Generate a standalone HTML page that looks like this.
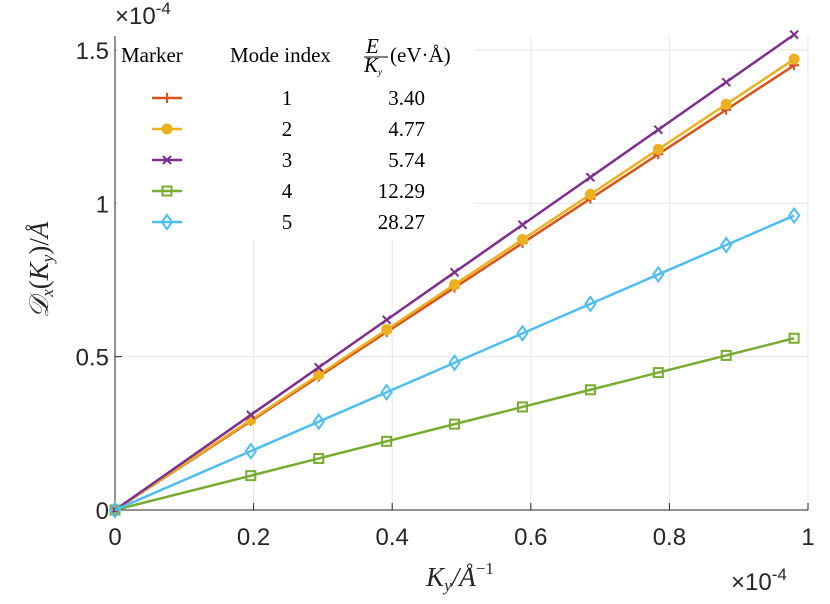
<!DOCTYPE html>
<html><head><meta charset="utf-8"><style>
body{margin:0;background:#fff}
svg{display:block}
.tk{font-family:"Liberation Sans",sans-serif;font-size:24px;fill:#262626}
.lg{font-family:"Liberation Serif",serif;font-size:21px;fill:#000}
</style></head><body>
<svg id="chart" width="830" height="604" viewBox="0 0 830 604" xmlns="http://www.w3.org/2000/svg">
<g id="grid"></g>
<g id="axes"></g>
<g id="series"></g>
<rect x="116" y="36" width="358" height="204" fill="#fff"/>
<g>
<text class="lg" x="121" y="62">Marker</text>
<text class="lg" x="230" y="62">Mode index</text>
<g>
<text class="lg" x="366" y="53" font-size="13" font-style="italic">E</text>
<line x1="364" y1="57" x2="388" y2="57" stroke="#000" stroke-width="1"/>
<text class="lg" x="364" y="72" font-size="13" font-style="italic">K<tspan font-size="9" dy="3">y</tspan></text>
<text class="lg" x="390" y="62">(eV·Å)</text>
</g>
<g id="legend-rows"></g>
</g>
<text class="tk" x="115" y="24" font-size="25">×10<tspan font-size="17" dy="-10">-4</tspan></text>
<text class="tk" x="731" y="590" font-size="25">×10<tspan font-size="17" dy="-10">-4</tspan></text>
<text x="460" y="586" text-anchor="middle" font-family="Liberation Serif,serif" font-size="27" font-style="italic" fill="#262626">K<tspan font-size="17" dy="5">y</tspan><tspan dy="-5">/Å</tspan><tspan font-size="17" dy="-12" font-style="normal">−1</tspan></text>
<text transform="translate(48,270) rotate(-90)" text-anchor="middle" font-family="Liberation Serif,serif" font-size="27" font-style="italic" fill="#262626">𝒟<tspan font-size="17" dy="5">x</tspan><tspan dy="-5" font-style="normal">(</tspan>K<tspan font-size="17" dy="5">y</tspan><tspan dy="-5" font-style="normal">)/</tspan>Å</text>
</svg>
<script>
const xs=[0,0.196,0.294,0.392,0.49,0.588,0.686,0.784,0.882,0.98];
const s1=[0,0.29,0.435,0.58,0.725,0.87,1.015,1.16,1.305,1.45];
const s2=[0,0.294,0.441,0.588,0.735,0.882,1.029,1.176,1.323,1.47];
const s3=[0,0.31,0.465,0.62,0.775,0.93,1.085,1.24,1.395,1.55];
const s4=[0,0.112,0.168,0.224,0.28,0.336,0.392,0.448,0.504,0.56];
const s5=[0,0.192,0.288,0.384,0.48,0.576,0.672,0.768,0.864,0.96];
const xTicks=[0,0.2,0.4,0.6,0.8,1];
const xTickLabels=["0","0.2","0.4","0.6","0.8","1"];
const yTicks=[0,0.5,1,1.5];
const yTickLabels=["0","0.5","1","1.5"];
const modes=["1","2","3","4","5"];
const energies=["3.40","4.77","5.74","12.29","28.27"];
const NS="http://www.w3.org/2000/svg";
const X0=115,X1=808,Y0=510,YT=36;
const xS=v=>X0+v*(X1-X0);
const yS=v=>Y0-v*306.7;
function mk(t,a,p){const e=document.createElementNS(NS,t);for(const k in a)e.setAttribute(k,a[k]);p.appendChild(e);return e;}
const grid=document.getElementById('grid'),axes=document.getElementById('axes'),ser=document.getElementById('series');
xTicks.forEach((t,i)=>{
 if(t>0){const g=mk('line',{x1:xS(t),x2:xS(t),y1:Y0,y2:YT,stroke:'#e6e6e6','stroke-width':1},grid);
 
 }
 const tk=mk('line',{x1:xS(t),x2:xS(t),y1:Y0,y2:Y0-7,stroke:'#262626'},axes);
 
 
 const l=mk('text',{x:xS(t),y:Y0+35,'text-anchor':'middle',class:'tk'},axes);l.textContent=xTickLabels[i];
 
 
});
yTicks.forEach((t,i)=>{
 if(t>0){const g=mk('line',{x1:X0,x2:X1,y1:yS(t),y2:yS(t),stroke:'#e6e6e6','stroke-width':1},grid);
 
 }
 const tk=mk('line',{x1:X0,x2:X0+7,y1:yS(t),y2:yS(t),stroke:'#262626'},axes);
 
 
 const l=mk('text',{x:X0-6,y:yS(t)+9,'text-anchor':'end',class:'tk'},axes);l.textContent=yTickLabels[i];
 
 
});
const xa=mk('line',{x1:X0,x2:X1,y1:Y0,y2:Y0,stroke:'#262626'},axes);


const ya=mk('line',{x1:X0,x2:X0,y1:Y0,y2:YT,stroke:'#262626'},axes);


function marker(type,x,y,c,p){
 const g=mk('g',{stroke:c,'stroke-width':2,fill:'none'},p);
 if(type==='plus'){mk('path',{d:`M${x-5} ${y}H${x+5}M${x} ${y-5}V${y+5}`},g);}
 else if(type==='circle'){mk('circle',{cx:x,cy:y,r:4.5,fill:c},g);}
 else if(type==='x'){mk('path',{d:`M${x-4} ${y-4}L${x+4} ${y+4}M${x-4} ${y+4}L${x+4} ${y-4}`},g);}
 else if(type==='square'){mk('rect',{x:x-4.5,y:y-4.5,width:9,height:9},g);}
 else {mk('path',{d:`M${x} ${y-7}L${x+5} ${y}L${x} ${y+7}L${x-5} ${y}Z`},g);}
 return g;
}
const defs=[[s1,'#d95319','plus'],[s2,'#edb120','circle'],[s3,'#7e2f8e','x'],[s4,'#77ac30','square'],[s5,'#4dbeee','diamond']];
defs.forEach(([d,c,m],k)=>{
 const g=mk('g',{},ser);
 
 
 const pl=mk('polyline',{points:xs.map((x,i)=>xS(x)+','+yS(d[i])).join(' '),fill:'none',stroke:c,'stroke-width':2.5},g);
 
 
 xs.forEach((x,i)=>{const mm=marker(m,xS(x),yS(d[i]),c,g);
  
  });
});
const lr=document.getElementById('legend-rows');
defs.forEach(([d,c,m],k)=>{
 const y=98+k*31;
 const g=mk('g',{},lr);
 
 
 mk('line',{x1:152,x2:182,y1:y,y2:y,stroke:c,'stroke-width':2.5},g);
 marker(m,167,y,c,g);
 const t1=mk('text',{x:287,y:y+7,'text-anchor':'middle',class:'lg'},g);t1.textContent=modes[k];
 const t2=mk('text',{x:425,y:y+7,'text-anchor':'end',class:'lg'},g);t2.textContent=energies[k];
});
</script>
</body></html>
